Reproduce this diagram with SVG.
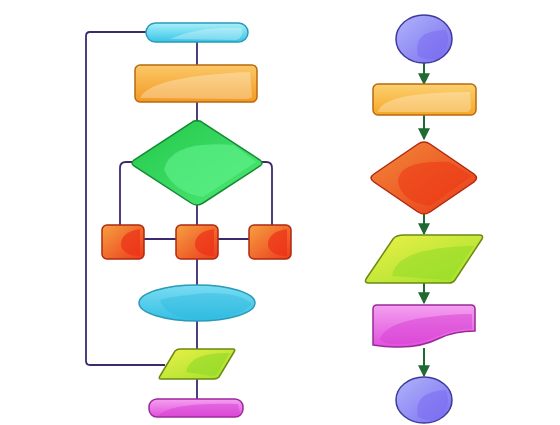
<svg xmlns="http://www.w3.org/2000/svg" width="560" height="425" viewBox="0 0 560 425">
<defs>
<linearGradient id="gCyan" x1="0" y1="0" x2="0" y2="1"><stop offset="0" stop-color="#a8f0fa"/><stop offset="1" stop-color="#38c4e6"/></linearGradient>
<linearGradient id="gOrange" x1="0" y1="0" x2="0" y2="1"><stop offset="0" stop-color="#fbc868"/><stop offset="1" stop-color="#f39a22"/></linearGradient>
<linearGradient id="gGreen" x1="0" y1="0" x2="1" y2="1"><stop offset="0" stop-color="#22c84a"/><stop offset="1" stop-color="#4fe877"/></linearGradient>
<linearGradient id="gRed" x1="0" y1="0" x2="1" y2="1"><stop offset="0" stop-color="#f5a040"/><stop offset="1" stop-color="#ec3a1c"/></linearGradient>
<linearGradient id="gEll" x1="0" y1="0" x2="0" y2="1"><stop offset="0" stop-color="#7adcf2"/><stop offset="1" stop-color="#34c0e4"/></linearGradient>
<linearGradient id="gLime" x1="0" y1="0" x2="1" y2="1"><stop offset="0" stop-color="#eef04a"/><stop offset="1" stop-color="#9ee02a"/></linearGradient>
<linearGradient id="gMag" x1="0" y1="0" x2="0" y2="1"><stop offset="0" stop-color="#f4a0f0"/><stop offset="1" stop-color="#e050dc"/></linearGradient>
<linearGradient id="gPurp" x1="0" y1="0" x2="1" y2="1"><stop offset="0" stop-color="#b0b4fa"/><stop offset="1" stop-color="#7a6ef0"/></linearGradient>
<linearGradient id="gOr2" x1="0" y1="0" x2="0" y2="1"><stop offset="0" stop-color="#fcd070"/><stop offset="1" stop-color="#f5a828"/></linearGradient>
<linearGradient id="gRedD" x1="0" y1="0" x2="1" y2="1"><stop offset="0" stop-color="#f28a3a"/><stop offset="1" stop-color="#ea3a18"/></linearGradient>
<marker id="arr" viewBox="0 0 10 10" refX="9" refY="5" markerWidth="6" markerHeight="6" orient="auto"><path d="M0,0 L10,5 L0,10 z" fill="#1f6a30"/></marker>
</defs>
<style>
.ln{fill:none;stroke:#3d2a6e;stroke-width:1.8}
.ar{fill:none;stroke:#1f6a30;stroke-width:2;marker-end:url(#arr)}
.hl{fill:#ffffff;opacity:0.3}
.o-cyan{stroke:#2a9ab8;stroke-width:1.5}
.o-or{stroke:#b86a10;stroke-width:1.5}
.o-gr{stroke:#148a32;stroke-width:1.5}
.o-red{stroke:#b02810;stroke-width:1.5}
.o-lime{stroke:#6a8a10;stroke-width:1.5}
.o-mag{stroke:#9a2a9a;stroke-width:1.5}
.o-pur{stroke:#3e3a9a;stroke-width:1.5}
</style>
<rect width="560" height="425" fill="#ffffff"/>

<g id="connectors">
<path class="ln" d="M197,42 V65"/>
<path class="ln" d="M197,102 V121"/>
<path class="ln" d="M132,162 H126 Q120,162 120,168 V226"/>
<path class="ln" d="M262,162 H266 Q272,162 272,168 V226"/>
<path class="ln" d="M197,204 V226"/>
<path class="ln" d="M144,239 H176 M218,239 H249"/>
<path class="ln" d="M197,259 V285"/>
<path class="ln" d="M197,321 V349"/>
<path class="ln" d="M197,379 V399"/>
<path class="ln" d="M146,32 H90 Q86,32 86,36 V361 Q86,365 90,365 H165"/>
<path class="ar" d="M424,63 V84"/>
<path class="ar" d="M424,115 V139"/>
<path class="ar" d="M424,214 V234"/>
<path class="ar" d="M424,283 V303"/>
<path class="ar" d="M424,348 V376"/>
</g>

<g id="start-pill">
<rect x="146" y="23" width="102" height="19" rx="9.5" fill="url(#gCyan)" class="o-cyan"/>
<path class="hl" d="M170,39 Q200,26 242,28 Q244,38 236,40 Z"/>
</g>
<g id="process-left">
<rect x="135" y="65" width="122" height="37" rx="5" fill="url(#gOrange)" class="o-or"/>
<path class="hl" d="M140,98 Q150,76 250,72 L252,97 Q250,99 245,99 Z"/>
</g>
<g id="decision-green">
<path d="M197,121 Q200,120 203,123 L260,160 Q264,163 260,166 L203,203 Q197,207 191,203 L134,166 Q130,163 134,160 L191,123 Q194,120 197,121 Z" fill="url(#gGreen)" class="o-gr"/>
<path d="M164,170 Q170,140 234,145 L256,162 L203,197 Q175,193 164,170 Z" fill="#5cf088" opacity="0.7"/>
</g>
<g id="box-left">
<rect x="102" y="225" width="42" height="34" rx="5" fill="url(#gRed)" class="o-red"/>
<path d="M140,229 Q120,232 121,246 Q124,256 140,256 Z" fill="#ec3018" opacity="0.7"/>
</g>
<g id="box-mid">
<rect x="176" y="225" width="42" height="34" rx="5" fill="url(#gRed)" class="o-red"/>
<path d="M214,229 Q194,232 195,246 Q198,256 214,256 Z" fill="#ec3018" opacity="0.7"/>
</g>
<g id="box-right">
<rect x="249" y="225" width="42" height="34" rx="5" fill="url(#gRed)" class="o-red"/>
<path d="M287,229 Q267,232 268,246 Q271,256 287,256 Z" fill="#ec3018" opacity="0.7"/>
</g>
<g id="ellipse">
<ellipse cx="197" cy="303" rx="58" ry="18" fill="url(#gEll)" class="o-cyan"/>
<path d="M160,300 Q165,318 200,320 Q240,318 252,304 Q240,292 205,293 Q168,297 160,300 Z" fill="#28b4dc" opacity="0.35"/>
</g>
<g id="io-left">
<path d="M180,349 H233 Q236,349 234,352 L219,377 Q217,379 214,379 H161 Q158,379 160,376 L175,351 Q177,349 180,349 Z" fill="url(#gLime)" class="o-lime"/>
<path d="M186,372 Q190,352 230,353 L217,374 Q216,376 213,376 Z" fill="#90d828" opacity="0.6"/>
</g>
<g id="end-pill">
<rect x="149" y="399" width="94" height="18" rx="8" fill="url(#gMag)" class="o-mag"/>
<path d="M158,416 Q170,402 238,404 L240,413 Q238,416 234,416 Z" fill="#d840d4" opacity="0.5"/>
</g>

<g id="start-circle">
<ellipse cx="424" cy="39" rx="28" ry="24" fill="url(#gPurp)" class="o-pur"/>
<path d="M418,56 Q412,30 446,30 Q452,44 440,58 Q430,62 418,56 Z" fill="#7a6cf0" opacity="0.55"/>
</g>
<g id="process-right">
<rect x="373" y="84" width="103" height="31" rx="5" fill="url(#gOr2)" class="o-or"/>
<path class="hl" d="M378,112 Q382,92 470,92 L471,108 Q470,112 466,112 Z"/>
</g>
<g id="decision-red">
<path d="M424,142 Q427,142 430,144 L474,174 Q479,178 474,182 L430,212 Q424,216 418,212 L374,182 Q368,178 374,174 L418,144 Q421,142 424,142 Z" fill="url(#gRedD)" class="o-red"/>
<path d="M398,182 Q398,160 450,162 L472,176 L430,206 Q402,202 398,182 Z" fill="#ec3a18" opacity="0.6"/>
</g>
<g id="io-right">
<path d="M404,235 H479 Q484,235 482,239 L455,280 Q453,283 449,283 H369 Q364,283 366,279 L393,239 Q396,235 404,235 Z" fill="url(#gLime)" class="o-lime"/>
<path d="M392,276 Q396,247 474,246 L452,278 Q451,280 447,280 Z" fill="#96dc2a" opacity="0.6"/>
</g>
<g id="document">
<path d="M377,305 H471 Q475,305 475,309 V331 Q455,331 440,338 Q420,348 395,347 Q385,347 373,345 V309 Q373,305 377,305 Z" fill="url(#gMag)" class="o-mag"/>
<path d="M380,340 Q385,316 472,314 V329 Q452,330 438,336 Q418,345 395,344 Q386,344 380,340 Z" fill="#d840d4" opacity="0.5"/>
</g>
<g id="end-circle">
<ellipse cx="424" cy="400" rx="28" ry="23" fill="url(#gPurp)" class="o-pur"/>
<path d="M418,417 Q412,392 446,390 Q452,405 440,419 Q430,423 418,417 Z" fill="#7a6cf0" opacity="0.55"/>
</g>
</svg>
